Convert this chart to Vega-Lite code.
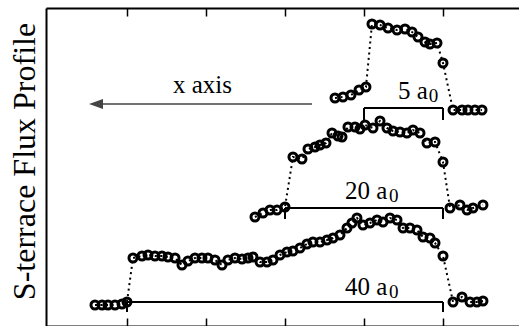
{
  "$schema": "https://vega.github.io/schema/vega-lite/v6.json",
  "width": 473,
  "height": 318,
  "autosize": {"type": "none"},
  "padding": {"left": 46, "top": 8, "right": 0, "bottom": 0},
  "background": "white",
  "config": {"view": {"stroke": null}, "font": "Liberation Serif"},
  "datasets": {
    "profiles": [
      {"profile": "40", "x": -44.05, "y": 2.1},
      {"profile": "40", "x": -43.16, "y": 2.1},
      {"profile": "40", "x": -42.41, "y": 2.1},
      {"profile": "40", "x": -41.52, "y": 2.1},
      {"profile": "40", "x": -40.63, "y": 2.2},
      {"profile": "40", "x": -40.0, "y": 2.4},
      {"profile": "40", "x": -39.24, "y": 6.8},
      {"profile": "40", "x": -38.10, "y": 7.0},
      {"profile": "40", "x": -37.34, "y": 7.1},
      {"profile": "40", "x": -36.46, "y": 7.0},
      {"profile": "40", "x": -35.57, "y": 7.0},
      {"profile": "40", "x": -34.81, "y": 6.9},
      {"profile": "40", "x": -33.92, "y": 6.8},
      {"profile": "40", "x": -33.04, "y": 6.1},
      {"profile": "40", "x": -32.28, "y": 6.5},
      {"profile": "40", "x": -31.39, "y": 6.8},
      {"profile": "40", "x": -30.51, "y": 6.8},
      {"profile": "40", "x": -29.75, "y": 6.8},
      {"profile": "40", "x": -28.86, "y": 6.6},
      {"profile": "40", "x": -27.97, "y": 6.1},
      {"profile": "40", "x": -27.22, "y": 6.6},
      {"profile": "40", "x": -26.33, "y": 6.8},
      {"profile": "40", "x": -25.44, "y": 6.7},
      {"profile": "40", "x": -24.68, "y": 6.8},
      {"profile": "40", "x": -24.05, "y": 6.9},
      {"profile": "40", "x": -23.16, "y": 6.4},
      {"profile": "40", "x": -22.28, "y": 6.4},
      {"profile": "40", "x": -21.52, "y": 6.6},
      {"profile": "40", "x": -20.63, "y": 7.1},
      {"profile": "40", "x": -19.75, "y": 7.4},
      {"profile": "40", "x": -18.99, "y": 7.5},
      {"profile": "40", "x": -18.10, "y": 7.8},
      {"profile": "40", "x": -17.22, "y": 8.2},
      {"profile": "40", "x": -16.46, "y": 8.4},
      {"profile": "40", "x": -15.57, "y": 8.4},
      {"profile": "40", "x": -14.68, "y": 8.6},
      {"profile": "40", "x": -13.92, "y": 8.8},
      {"profile": "40", "x": -13.04, "y": 9.1},
      {"profile": "40", "x": -12.15, "y": 9.8},
      {"profile": "40", "x": -11.52, "y": 10.3},
      {"profile": "40", "x": -10.89, "y": 10.8},
      {"profile": "40", "x": -10.13, "y": 10.1},
      {"profile": "40", "x": -9.24, "y": 10.3},
      {"profile": "40", "x": -8.35, "y": 10.6},
      {"profile": "40", "x": -7.59, "y": 10.4},
      {"profile": "40", "x": -6.71, "y": 10.8},
      {"profile": "40", "x": -5.82, "y": 10.6},
      {"profile": "40", "x": -5.06, "y": 9.8},
      {"profile": "40", "x": -4.18, "y": 9.8},
      {"profile": "40", "x": -3.29, "y": 9.6},
      {"profile": "40", "x": -2.53, "y": 8.9},
      {"profile": "40", "x": -1.65, "y": 8.8},
      {"profile": "40", "x": -1.01, "y": 8.3},
      {"profile": "40", "x": 0.0, "y": 7.0},
      {"profile": "40", "x": 1.27, "y": 2.4},
      {"profile": "40", "x": 2.41, "y": 2.9},
      {"profile": "40", "x": 3.42, "y": 2.4},
      {"profile": "40", "x": 4.30, "y": 2.4},
      {"profile": "40", "x": 5.06, "y": 2.5},

      {"profile": "20", "x": -23.80, "y": 10.9},
      {"profile": "20", "x": -22.78, "y": 11.3},
      {"profile": "20", "x": -21.90, "y": 11.6},
      {"profile": "20", "x": -21.01, "y": 11.6},
      {"profile": "20", "x": -20.0, "y": 11.9},
      {"profile": "20", "x": -18.99, "y": 16.9},
      {"profile": "20", "x": -17.85, "y": 16.7},
      {"profile": "20", "x": -17.09, "y": 17.7},
      {"profile": "20", "x": -16.20, "y": 17.9},
      {"profile": "20", "x": -15.57, "y": 18.1},
      {"profile": "20", "x": -14.81, "y": 18.3},
      {"profile": "20", "x": -14.05, "y": 19.3},
      {"profile": "20", "x": -13.29, "y": 19.0},
      {"profile": "20", "x": -12.78, "y": 18.9},
      {"profile": "20", "x": -12.03, "y": 19.9},
      {"profile": "20", "x": -11.14, "y": 19.9},
      {"profile": "20", "x": -10.51, "y": 19.7},
      {"profile": "20", "x": -9.87, "y": 20.1},
      {"profile": "20", "x": -8.86, "y": 19.8},
      {"profile": "20", "x": -7.97, "y": 20.5},
      {"profile": "20", "x": -7.09, "y": 19.8},
      {"profile": "20", "x": -6.33, "y": 19.5},
      {"profile": "20", "x": -5.44, "y": 19.4},
      {"profile": "20", "x": -4.56, "y": 19.3},
      {"profile": "20", "x": -3.80, "y": 19.6},
      {"profile": "20", "x": -2.91, "y": 19.3},
      {"profile": "20", "x": -2.03, "y": 18.3},
      {"profile": "20", "x": -1.01, "y": 18.4},
      {"profile": "20", "x": 0.0, "y": 16.4},
      {"profile": "20", "x": 0.89, "y": 11.8},
      {"profile": "20", "x": 2.15, "y": 12.1},
      {"profile": "20", "x": 3.04, "y": 11.6},
      {"profile": "20", "x": 3.80, "y": 11.8},
      {"profile": "20", "x": 5.06, "y": 12.1},

      {"profile": "5", "x": -13.67, "y": 22.8},
      {"profile": "5", "x": -12.66, "y": 22.9},
      {"profile": "5", "x": -11.65, "y": 23.1},
      {"profile": "5", "x": -10.63, "y": 23.6},
      {"profile": "5", "x": -9.75, "y": 23.9},
      {"profile": "5", "x": -8.99, "y": 30.2},
      {"profile": "5", "x": -7.97, "y": 30.1},
      {"profile": "5", "x": -6.96, "y": 29.8},
      {"profile": "5", "x": -5.82, "y": 29.6},
      {"profile": "5", "x": -4.81, "y": 29.7},
      {"profile": "5", "x": -3.92, "y": 29.4},
      {"profile": "5", "x": -3.16, "y": 28.9},
      {"profile": "5", "x": -2.28, "y": 28.4},
      {"profile": "5", "x": -1.65, "y": 28.2},
      {"profile": "5", "x": -0.76, "y": 28.3},
      {"profile": "5", "x": 0.0, "y": 26.3},
      {"profile": "5", "x": 1.27, "y": 21.6},
      {"profile": "5", "x": 2.41, "y": 21.6},
      {"profile": "5", "x": 3.16, "y": 21.6},
      {"profile": "5", "x": 4.05, "y": 21.6},
      {"profile": "5", "x": 4.94, "y": 21.6}
    ],
    "bars": [
      {"x": -40, "x2": 0, "y": 2.4, "y2": 2.4},
      {"x": -40, "x2": -40, "y": 2.4, "y2": 1.4},
      {"x": 0, "x2": 0, "y": 2.4, "y2": 1.4},
      {"x": -20, "x2": 0, "y": 11.8, "y2": 11.8},
      {"x": -20, "x2": -20, "y": 11.8, "y2": 10.7},
      {"x": 0, "x2": 0, "y": 11.8, "y2": 10.7},
      {"x": -10, "x2": 0, "y": 21.8, "y2": 21.8},
      {"x": -10, "x2": -10, "y": 21.8, "y2": 20.6},
      {"x": 0, "x2": 0, "y": 21.8, "y2": 20.6}
    ],
    "arrowline": [{"x": -43.04, "x2": -16.58, "y": 22.2, "y2": 22.2}],
    "arrowhead": [{"x": -43.92, "y": 22.2}],
    "labels": [
      {"text": "40 a", "x": -12.41, "y": 3.1},
      {"text": "20 a", "x": -12.41, "y": 12.7},
      {"text": "5 a", "x": -5.70, "y": 22.7},
      {"text": "x axis", "x": -34.18, "y": 23.3}
    ],
    "subs": [
      {"text": "0", "x": -6.85, "y": 2.8},
      {"text": "0", "x": -6.85, "y": 12.4},
      {"text": "0", "x": -1.8, "y": 22.4}
    ]
  },
  "encoding": {
    "y": {
      "field": "y",
      "type": "quantitative",
      "scale": {"domain": [0, 31.8], "nice": false, "zero": false},
      "axis": {
        "orient": "left",
        "domain": true,
        "domainColor": "black",
        "domainWidth": 2,
        "ticks": false,
        "labels": false,
        "grid": false,
        "title": "S-terrace Flux Profile",
        "titleFont": "Liberation Serif",
        "titleFontSize": 32,
        "titleFontWeight": "normal",
        "titleColor": "black",
        "titleAngle": -90,
        "titleAlign": "center",
        "titleBaseline": "alphabetic",
        "titleX": -12,
        "titleY": 153
      }
    }
  },
  "layer": [
    {
      "data": {"name": "profiles"},
      "mark": {"type": "line", "color": "black", "strokeWidth": 2, "strokeDash": [2, 3.5], "strokeCap": "butt"},
      "encoding": {
        "x": {
          "field": "x", "type": "quantitative",
          "scale": {"domain": [-50.25, 9.62], "nice": false, "zero": false},
          "axis": {"orient": "top", "values": [-40, -30, -20, -10, 0], "labels": false, "grid": false, "title": null, "domainColor": "black", "domainWidth": 2, "tickColor": "black", "tickWidth": 1.5, "tickSize": -8}
        },
        "detail": {"field": "profile"}
      }
    },
    {
      "data": {"name": "profiles"},
      "mark": {"type": "point", "filled": false, "color": "black", "strokeWidth": 3, "size": 64, "opacity": 1},
      "encoding": {
        "x": {
          "field": "x", "type": "quantitative",
          "scale": {"domain": [-50.25, 9.62], "nice": false, "zero": false},
          "axis": {"orient": "bottom", "values": [-40, -30, -20, -10, 0], "labels": false, "grid": false, "title": null, "domainColor": "black", "domainWidth": 2, "tickColor": "black", "tickWidth": 1.5, "tickSize": -8}
        }
      }
    },
    {
      "data": {"name": "bars"},
      "mark": {"type": "rule", "color": "black", "strokeWidth": 2},
      "encoding": {
        "x": {"field": "x", "type": "quantitative", "scale": {"domain": [-50.25, 9.62], "nice": false, "zero": false}, "axis": null},
        "x2": {"field": "x2"},
        "y2": {"field": "y2"}
      }
    },
    {
      "data": {"name": "arrowline"},
      "mark": {"type": "rule", "color": "#444444", "strokeWidth": 1.5},
      "encoding": {
        "x": {"field": "x", "type": "quantitative", "scale": {"domain": [-50.25, 9.62], "nice": false, "zero": false}, "axis": null},
        "x2": {"field": "x2"},
        "y2": {"field": "y2"}
      }
    },
    {
      "data": {"name": "arrowhead"},
      "mark": {"type": "point", "shape": "M -1 0 L 1 -0.72 L 1 0.72 Z", "filled": true, "color": "#444444", "size": 196, "opacity": 1},
      "encoding": {
        "x": {"field": "x", "type": "quantitative", "scale": {"domain": [-50.25, 9.62], "nice": false, "zero": false}, "axis": null}
      }
    },
    {
      "data": {"name": "labels"},
      "mark": {"type": "text", "font": "Liberation Serif", "fontSize": 25, "align": "left", "baseline": "alphabetic", "color": "black"},
      "encoding": {
        "x": {"field": "x", "type": "quantitative", "scale": {"domain": [-50.25, 9.62], "nice": false, "zero": false}, "axis": null},
        "text": {"field": "text"}
      }
    },
    {
      "data": {"name": "subs"},
      "mark": {"type": "text", "font": "Liberation Serif", "fontSize": 19, "align": "left", "baseline": "alphabetic", "color": "black"},
      "encoding": {
        "x": {"field": "x", "type": "quantitative", "scale": {"domain": [-50.25, 9.62], "nice": false, "zero": false}, "axis": null},
        "text": {"field": "text"}
      }
    }
  ],
  "resolve": {"axis": {"x": "independent"}}
}
